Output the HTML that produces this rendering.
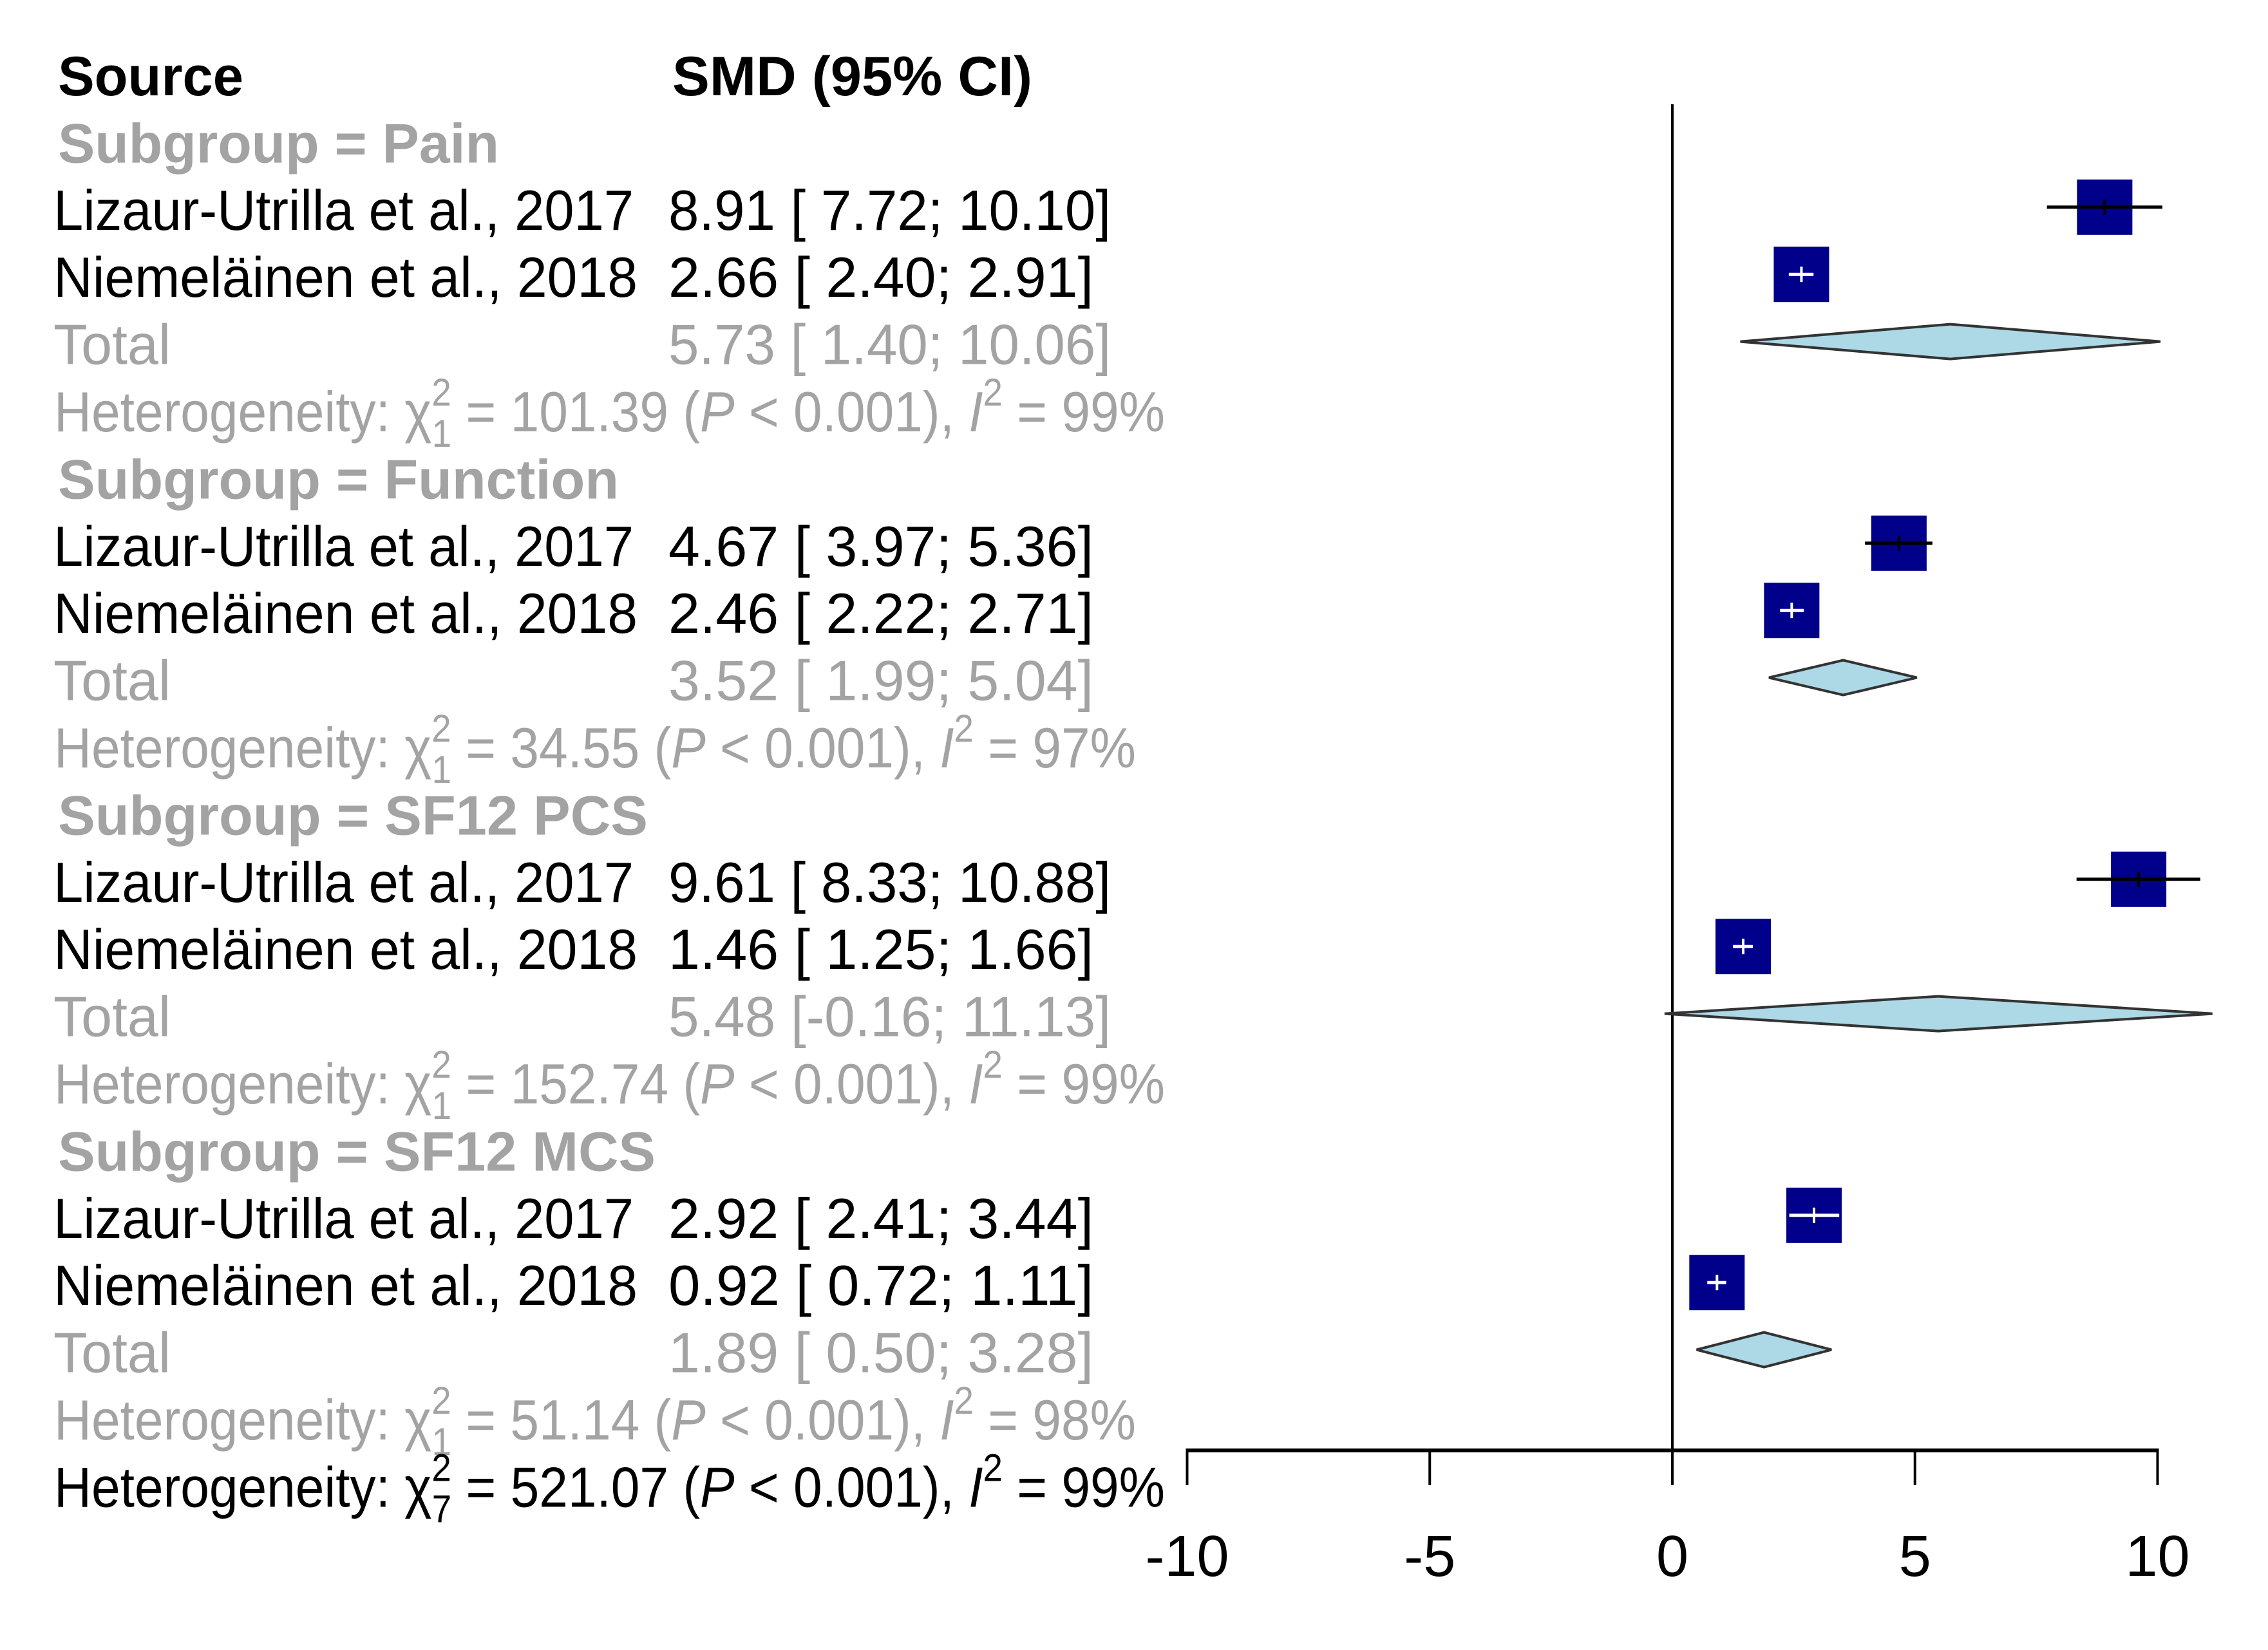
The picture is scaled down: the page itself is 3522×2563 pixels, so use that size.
<!DOCTYPE html>
<html><head><meta charset="utf-8"><style>
html,body{margin:0;padding:0;background:#fff;}
svg{display:block;}
text{font-family:"Liberation Sans",Arial,sans-serif;}
</style></head><body>
<svg id="chart" xmlns="http://www.w3.org/2000/svg" width="3522" height="2563" viewBox="0 0 3522 2563">
<rect width="3522" height="2563" fill="#fff"/>
<g id="txt"></g>
<g id="plot"></g>
</svg>
<script>
const NS="http://www.w3.org/2000/svg";
// data
const subgroups=["Pain","Function","SF12 PCS","SF12 MCS"];
const studies=["Lizaur-Utrilla et al., 2017","Niemeläinen et al., 2018"];
const studyEst=[[8.91,2.66],[4.67,2.46],[9.61,1.46],[2.92,0.92]];
const studyLo=[[7.72,2.40],[3.97,2.22],[8.33,1.25],[2.41,0.72]];
const studyHi=[[10.10,2.91],[5.36,2.71],[10.88,1.66],[3.44,1.11]];
const totalEst=[5.73,3.52,5.48,1.89];
const totalLo=[1.40,1.99,-0.16,0.50];
const totalHi=[10.06,5.04,11.13,3.28];
const hetChi=["101.39","34.55","152.74","51.14"];
const hetI2=["99%","97%","99%","98%"];
const overallChi="521.07", overallDf="7", overallI2="99%";
const xTicks=[-10,-5,0,5,10];
const xTickLabels=["-10","-5","0","5","10"];

const X0=2597, XS=(3349-1842)/20;
const x=v=>X0+v*XS;
const rowY=i=>117+104.4*i;
const FS=88, GRAY="#a3a3a3";
const subLen={"Pain":685,"Function":871,"SF12 PCS":916,"SF12 MCS":928};
const txt=document.getElementById('txt'), plot=document.getElementById('plot');
function mk(tag,attrs,parent){const e=document.createElementNS(NS,tag);for(const k in attrs)e.setAttribute(k,attrs[k]);parent.appendChild(e);return e;}
function fmt(v){const s=v.toFixed(2);return s.length<5?" "+s:s;}
function ci(e,l,h){return e.toFixed(2)+" ["+fmt(l)+"; "+fmt(h)+"]";}
function text(s,xx,row,opts,name){const t=mk('text',{x:xx,y:rowY(row)+31,'font-size':opts.fs||FS,fill:opts.fill||'#000','font-weight':opts.bold?'bold':'normal','xml:space':'preserve'},txt);t.textContent=s;
if(opts.len){t.setAttribute('textLength',opts.len);t.setAttribute('lengthAdjust','spacingAndGlyphs');}


return t;}
function het(row,chi,df,i2,fill,name,len){
 const t=mk('text',{x:84,y:rowY(row)+31,'font-size':FS,fill:fill,'xml:space':'preserve',textLength:len,lengthAdjust:'spacingAndGlyphs'},txt);
 
 
 const a=(s,at)=>{const sp=mk('tspan',at||{},t);sp.textContent=s;return sp;};
 a("Heterogeneity: χ");
 a("2",{'font-size':60,dy:-40});
 a(df,{'font-size':60,dx:-33,dy:64});
 a(" = "+chi+" (",{dy:-24});
 a("P",{'font-style':'italic'});
 a(" < 0.001), ");
 a("I",{'font-style':'italic'});
 a("2",{'font-size':60,dy:-40});
 a(" = "+i2,{dy:40});
}
text("Source",90,0,{bold:true,fs:86,len:288},"source-header");
text("SMD (95% CI)",1044,0,{bold:true,fs:86,len:559},"smd-header");

// axis
mk('line',{x1:x(0),x2:x(0),y1:162,y2:2253,stroke:'#000','stroke-width':4},plot);
const ax=mk('line',{x1:x(-10)-2,x2:x(10)+2,y1:2253,y2:2253,stroke:'#000','stroke-width':6},plot);

xTicks.forEach((v,k)=>{
 const tk=mk('line',{x1:x(v),x2:x(v),y1:2253,y2:2307,stroke:'#000','stroke-width':4},plot);
 
 
 const tl=mk('text',{x:x(v),y:2448,'font-size':90,'text-anchor':'middle',fill:'#000'},plot);
 tl.textContent=xTickLabels[k];
 
 
});

const SQ=86;
subgroups.forEach((g,gi)=>{
 const base=1+gi*5;
 text("Subgroup = "+g,90,base,{bold:true,fill:GRAY,fs:86,len:subLen[g]},"subgroup-label");
 studies.forEach((s,si)=>{
  const r=base+1+si, cy=rowY(r)-4;
  text(s,83,r,{len:si?907:901},"study-name");
  const e=studyEst[gi][si],lo=studyLo[gi][si],hi=studyHi[gi][si];
  text(ci(e,lo,hi),1038,r,{len:hi>=10?687:660},"study-smd");
  const inside=(x(lo)>x(e)-SQ/2 && x(hi)<x(e)+SQ/2);
  const l=mk('line',{x1:x(lo),x2:x(hi),y1:cy,y2:cy,stroke:'#000','stroke-width':5},plot);
  
  
  const sq=mk('rect',{x:x(e)-SQ/2,y:cy-SQ/2,width:SQ,height:SQ,fill:'#00008b'},plot);
  
  
  const c=inside?'#fff':'#000';
  mk('line',{x1:Math.max(x(lo),x(e)-SQ/2),x2:Math.min(x(hi),x(e)+SQ/2),y1:cy,y2:cy,stroke:c,'stroke-width':5},plot);
  mk('line',{x1:x(e),x2:x(e),y1:cy-12,y2:cy+12,stroke:c,'stroke-width':4},plot);
 });
 const tr=base+3, ty=rowY(tr)-4;
 text("Total",83,tr,{fill:GRAY,len:182},"total-label");
 text(ci(totalEst[gi],totalLo[gi],totalHi[gi]),1038,tr,{fill:GRAY,len:totalHi[gi]>=10?687:660},"total-smd");
 const d=mk('polygon',{points:`${x(totalLo[gi])},${ty} ${x(totalEst[gi])},${ty-27} ${x(totalHi[gi])},${ty} ${x(totalEst[gi])},${ty+27}`,fill:'#add8e6',stroke:'#333','stroke-width':4},plot);
 
 
 het(base+4,hetChi[gi],"1",hetI2[gi],GRAY,"subgroup-heterogeneity",hetChi[gi].length>5?1725:1680);
});
het(21,overallChi,overallDf,overallI2,"#000","overall-heterogeneity",1725);
</script>
</body></html>
